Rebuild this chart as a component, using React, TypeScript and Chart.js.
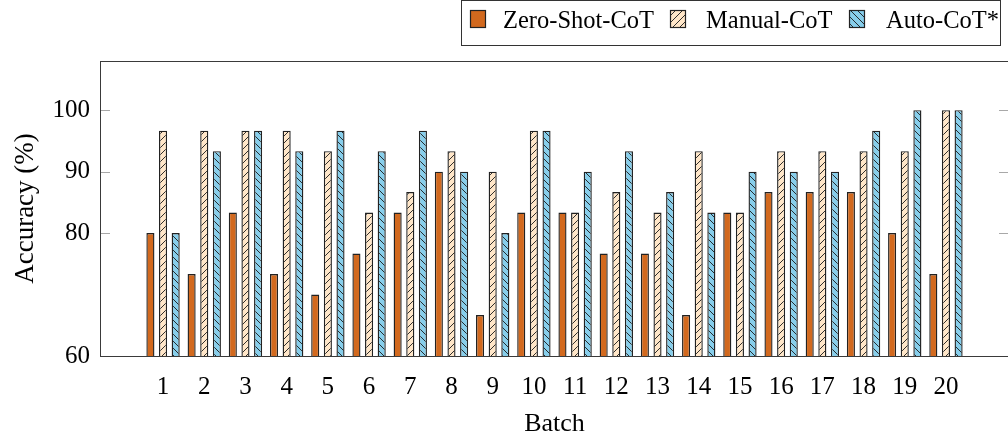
import React, { useEffect, useRef } from "react";
import { Chart, registerables } from "chart.js";

Chart.register(...registerables);

const batches = [1, 2, 3, 4, 5, 6, 7, 8, 9, 10, 11, 12, 13, 14, 15, 16, 17, 18, 19, 20];
const zeroShot = [80, 73.33, 83.33, 73.33, 70, 76.67, 83.33, 90, 66.67, 83.33, 83.33, 76.67, 76.67, 66.67, 83.33, 86.67, 86.67, 86.67, 80, 73.33];
const manual = [96.67, 96.67, 96.67, 96.67, 93.33, 83.33, 86.67, 93.33, 90, 96.67, 83.33, 86.67, 83.33, 93.33, 83.33, 93.33, 93.33, 93.33, 93.33, 100];
const auto = [80, 93.33, 96.67, 93.33, 96.67, 93.33, 96.67, 90, 80, 96.67, 90, 93.33, 86.67, 83.33, 90, 90, 90, 96.67, 100, 100];
const yTicks = [60, 80, 90, 100];
const seriesNames = ["Zero-Shot-CoT", "Manual-CoT", "Auto-CoT*"];

const FONT = '"Liberation Serif", "Times New Roman", serif';
const ZS_COLOR = "#D2691E";
const MAN_COLOR = "#FFE6C8";
const AUTO_COLOR = "#87CEEB";
const EDGE = "#222222";

function makeHatch(ctx: CanvasRenderingContext2D, bg: string, dir: "ne" | "nw") {
  const n = 7;
  const c = document.createElement("canvas");
  c.width = n;
  c.height = n;
  const g = c.getContext("2d")!;
  g.fillStyle = bg;
  g.fillRect(0, 0, n, n);
  g.strokeStyle = "#1a1a1a";
  g.lineWidth = 0.9;
  g.beginPath();
  if (dir === "ne") {
    g.moveTo(-1, n + 1); g.lineTo(n + 1, -1);
    g.moveTo(-1, 1); g.lineTo(1, -1);
    g.moveTo(n - 1, n + 1); g.lineTo(n + 1, n - 1);
  } else {
    g.moveTo(-1, -1); g.lineTo(n + 1, n + 1);
    g.moveTo(n - 1, -1); g.lineTo(n + 1, 1);
    g.moveTo(-1, n - 1); g.lineTo(1, n + 1);
  }
  g.stroke();
  return ctx.createPattern(c, "repeat")!;
}

export default function App() {
  const ref = useRef<HTMLCanvasElement | null>(null);

  useEffect(() => {
    const canvas = ref.current!;
    const ctx = canvas.getContext("2d")!;
    const manPat = makeHatch(ctx, MAN_COLOR, "ne");
    const autoPat = makeHatch(ctx, AUTO_COLOR, "nw");
    const fills: (string | CanvasPattern)[] = [ZS_COLOR, manPat, autoPat];

    Chart.defaults.font.family = FONT;
    Chart.defaults.color = "#000";

    const framePlugin = {
      id: "frame",
      afterDatasetsDraw(chart: any) {
        const { ctx: c, chartArea: a } = chart;
        const ys = chart.scales.y;
        c.save();
        c.strokeStyle = "#a8a8a8";
        c.lineWidth = 1;
        for (const v of yTicks) {
          const py = Math.round(ys.getPixelForValue(v)) + 0.5;
          c.beginPath();
          c.moveTo(a.left, py); c.lineTo(a.left + 10, py);
          c.moveTo(a.right - 10, py); c.lineTo(a.right, py);
          c.stroke();
        }
        c.strokeStyle = "#3a3a3a";
        c.lineWidth = 1;
        c.strokeRect(Math.round(a.left) + 0.5, Math.round(a.top) + 0.5, Math.round(a.right - a.left), Math.round(a.bottom - a.top));
        c.restore();
      },
      afterDraw(chart: any) {
        const c = chart.ctx as CanvasRenderingContext2D;
        const a = chart.chartArea;
        c.save();
        // axis titles
        c.fillStyle = "#000";
        c.font = `26px ${FONT}`;
        c.textAlign = "center";
        c.textBaseline = "alphabetic";
        c.fillText("Batch", (a.left + a.right) / 2, 431);
        c.save();
        c.font = `27px ${FONT}`;
        c.translate(33, (a.top + a.bottom) / 2);
        c.rotate(-Math.PI / 2);
        c.fillText("Accuracy (%)", 0, 0);
        c.restore();
        // legend
        c.strokeStyle = "#333";
        c.lineWidth = 1;
        c.fillStyle = "#fff";
        c.fillRect(461, 0, 539, 46);
        c.strokeRect(461.5, 0.5, 539, 45);
        const sqX = [470, 670, 849];
        const txX = [503, 706, 886];
        c.font = `24.5px ${FONT}`;
        c.textAlign = "left";
        for (let i = 0; i < 3; i++) {
          c.fillStyle = fills[i] as any;
          c.fillRect(sqX[i], 10, 16, 18);
          c.strokeStyle = EDGE;
          c.lineWidth = 1.2;
          c.strokeRect(sqX[i] + 0.5, 10.5, 15, 17);
          c.fillStyle = "#000";
          c.fillText(seriesNames[i], txX[i], 28);
        }
        c.restore();
      },
    };

    const mk = (label: string, data: number[], bg: any) => ({
      label,
      data: batches.map((b, i) => ({ x: b, y: data[i] })),
      backgroundColor: bg,
      borderColor: EDGE,
      borderWidth: 1.4,
      categoryPercentage: 0.92,
      barPercentage: 0.64,
    });

    const chart = new Chart(canvas, {
      type: "bar",
      data: {
        datasets: [
          mk(seriesNames[0], zeroShot, ZS_COLOR),
          mk(seriesNames[1], manual, manPat),
          mk(seriesNames[2], auto, autoPat),
        ],
      },
      plugins: [framePlugin],
      options: {
        animation: false,
        responsive: false,
        layout: { padding: { top: 61, right: 3, left: 0, bottom: 0 } },
        plugins: { legend: { display: false }, tooltip: { enabled: false } },
        scales: {
          x: {
            type: "linear",
            min: -0.53,
            max: 21.53,
            offset: false,
            grid: { display: false, drawTicks: false },
            border: { display: false },
            afterBuildTicks: (s: any) => { s.ticks = batches.map((v) => ({ value: v })); },
            afterFit: (s: any) => { s.height = 80; },
            ticks: {
              font: { size: 25, family: FONT },
              color: "#000",
              padding: 16,
              maxRotation: 0,
              autoSkip: false,
              callback: (v: any) => String(v),
            },
          },
          y: {
            min: 60,
            max: 108,
            grid: { display: false, drawTicks: false },
            border: { display: false },
            afterBuildTicks: (s: any) => { s.ticks = yTicks.map((v) => ({ value: v })); },
            afterFit: (s: any) => { s.width = 100; },
            ticks: {
              font: { size: 25, family: FONT },
              color: "#000",
              padding: 10,
              callback: (v: any) => String(v),
            },
          },
        },
      } as any,
    });
    return () => chart.destroy();
  }, []);

  return (
    <div style={{ position: "absolute", left: 0, top: 0, width: 1008, height: 436, overflow: "hidden", background: "#fff" }}>
      <canvas ref={ref} width={1012} height={436} style={{ display: "block", width: 1012, height: 436 }} />
    </div>
  );
}
